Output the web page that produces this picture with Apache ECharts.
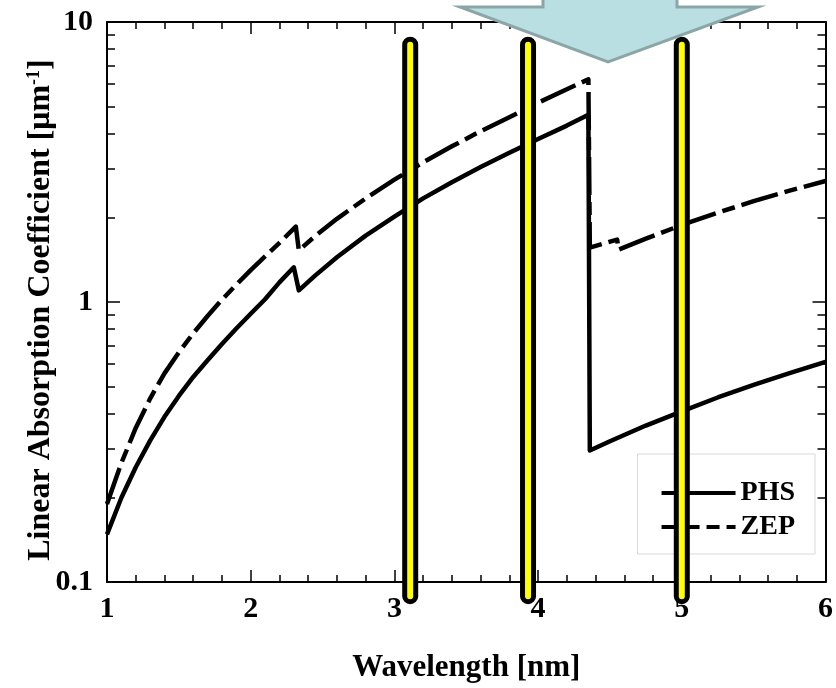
<!DOCTYPE html>
<html>
<head>
<meta charset="utf-8">
<script src="https://cdn.jsdelivr.net/npm/echarts@6/dist/echarts.min.js"></script>
<style>
  html, body { margin: 0; padding: 0; background: #ffffff; }
  #chart { width: 836px; height: 688px; }
</style>
</head>
<body>
<div id="chart"></div>
<script>
// Linear absorption coefficient (µm^-1) versus wavelength (nm).
// Repeated/near-repeated wavelengths mark the absorption edges (O K-edge ~2.3 nm, C K-edge ~4.36 nm).
const wavelengthsPHS = [1.0, 1.1, 1.2, 1.3, 1.4, 1.5, 1.6, 1.7, 1.8, 1.9, 2.0, 2.1, 2.2, 2.30,
                        2.335, 2.45, 2.6, 2.8, 3.0, 3.2, 3.4, 3.6, 3.8, 4.0, 4.2, 4.35,
                        4.36, 4.5, 4.75, 5.0, 5.25, 5.5, 5.75, 6.0];
const absorptionPHS  = [0.148, 0.200, 0.257, 0.320, 0.389, 0.462, 0.540, 0.619, 0.708, 0.804, 0.908, 1.023, 1.175, 1.33,
                        1.10, 1.245, 1.445, 1.726, 2.018, 2.344, 2.679, 3.034, 3.412, 3.819, 4.266, 4.66,
                        0.295, 0.318, 0.362, 0.407, 0.456, 0.506, 0.557, 0.611];

const wavelengthsZEP = [1.0, 1.1, 1.2, 1.3, 1.4, 1.5, 1.6, 1.7, 1.8, 1.9, 2.0, 2.1, 2.2, 2.314,
                        2.335, 2.45, 2.6, 2.8, 3.0, 3.2, 3.4, 3.6, 3.8, 4.0, 4.2, 4.35,
                        4.36, 4.55, 4.56, 4.75, 5.0, 5.25, 5.5, 5.75, 6.0];
const absorptionZEP  = [0.190, 0.266, 0.355, 0.452, 0.556, 0.661, 0.773, 0.891, 1.019, 1.153, 1.300, 1.455, 1.626, 1.86,
                        1.528, 1.722, 1.982, 2.344, 2.735, 3.155, 3.597, 4.074, 4.571, 5.15, 5.75, 6.24,
                        1.563, 1.671, 1.538, 1.683, 1.884, 2.084, 2.291, 2.500, 2.704];

const seriesNames = ['PHS', 'ZEP'];
const xTickLabels = [1, 2, 3, 4, 5, 6];
const yMajorTicks = [0.1, 1, 10];
const yMinorTicks = [0.2, 0.3, 0.4, 0.5, 0.6, 0.7, 0.8, 0.9, 2, 3, 4, 5, 6, 7, 8, 9];

// Highlighted wavelengths (vertical yellow markers) and their vertical span.
const markerWavelengths = [3.11, 3.93, 5.00];
const markerSpan = [0.089, 8.3];

const FONT = '"Liberation Serif", "Times New Roman", serif';
const toPairs = (xs, ys) => xs.map((x, i) => [x, ys[i]]);

const markerSeries = [];
markerWavelengths.forEach((w) => {
  const pts = [[w, markerSpan[0]], [w, markerSpan[1]]];
  markerSeries.push({
    type: 'line', data: pts, symbol: 'none', clip: false, silent: true, z: 10,
    lineStyle: { color: '#000000', width: 16, cap: 'round' }
  });
  markerSeries.push({
    type: 'line', data: pts, symbol: 'none', clip: false, silent: true, z: 11,
    lineStyle: { color: '#ffff00', width: 6, cap: 'round' }
  });
});

const frameLine = { show: true, onZero: false, lineStyle: { color: '#000', width: 2 } };
const tickLine = { color: '#000', width: 1.5 };

function xAxisDef(pos, withLabels) {
  return {
    type: 'value', min: xTickLabels[0], max: xTickLabels[xTickLabels.length - 1], interval: 1,
    position: pos,
    axisLine: frameLine,
    axisTick: { show: true, inside: true, length: 12, lineStyle: tickLine },
    minorTick: { show: true, splitNumber: 5, length: 7, lineStyle: tickLine },
    splitLine: { show: false },
    minorSplitLine: { show: false },
    axisLabel: {
      show: withLabels, margin: 12, color: '#000',
      fontFamily: FONT, fontWeight: 'bold', fontSize: 30
    }
  };
}

function yAxisDef(pos, ticks, len, withLabels, withLine) {
  return {
    type: 'log', logBase: 10, min: 0.1, max: 10, position: pos,
    axisLine: withLine ? frameLine : { show: false },
    axisTick: { show: true, inside: true, length: len, lineStyle: tickLine, customValues: ticks },
    splitLine: { show: false },
    axisLabel: {
      show: withLabels, margin: 14, color: '#000',
      fontFamily: FONT, fontWeight: 'bold', fontSize: 30,
      customValues: yMajorTicks
    }
  };
}

const yLeft = yAxisDef('left', yMajorTicks, 13, true, true);
yLeft.name = '{t|Linear Absorption Coefficient [μm}{s|-1}{t|]}';
yLeft.nameLocation = 'middle';
yLeft.nameRotate = 90;
yLeft.nameGap = 50;
yLeft.nameMoveOverlap = false;
yLeft.nameTextStyle = {
  color: '#000', fontFamily: FONT, fontWeight: 'bold', fontSize: 32,
  padding: [0, 16, 0, 0],
  rich: {
    t: { fontFamily: FONT, fontWeight: 'bold', fontSize: 32, color: '#000' },
    s: { fontFamily: FONT, fontWeight: 'bold', fontSize: 18, color: '#000', verticalAlign: 'top' }
  }
};

const xBottom = xAxisDef('bottom', true);
xBottom.name = 'Wavelength [nm]';
xBottom.nameLocation = 'middle';
xBottom.nameGap = 70;
xBottom.nameMoveOverlap = false;
xBottom.nameTextStyle = { color: '#000', fontFamily: FONT, fontWeight: 'bold', fontSize: 31 };

const option = {
  animation: false,
  backgroundColor: '#ffffff',
  grid: { left: 107, right: 6, top: 22, bottom: 101, containLabel: false },
  xAxis: [xBottom, xAxisDef('top', false)],
  yAxis: [
    yLeft,
    yAxisDef('left', yMinorTicks, 8, false, false),
    yAxisDef('right', yMajorTicks, 13, false, true),
    yAxisDef('right', yMinorTicks, 8, false, false)
  ],
  legend: {
    data: seriesNames,
    orient: 'vertical', right: 21, top: 454,
    backgroundColor: '#ffffff', borderColor: '#d9d9d9', borderWidth: 1,
    padding: [25, 20, 13, 22], itemGap: 6,
    itemWidth: 74, itemHeight: 14, selectedMode: false,
    itemStyle: { opacity: 0 },
    lineStyle: { width: 4, color: '#000' },
    textStyle: { color: '#000', fontFamily: FONT, fontWeight: 'bold', fontSize: 28, lineHeight: 28 }
  },
  series: [
    {
      name: seriesNames[0], type: 'line', data: toPairs(wavelengthsPHS, absorptionPHS),
      symbol: 'none', showSymbol: false, z: 3,
      itemStyle: { color: '#000' },
      lineStyle: { color: '#000', width: 4.5, join: 'round' }
    },
    {
      name: seriesNames[1], type: 'line', data: toPairs(wavelengthsZEP, absorptionZEP),
      symbol: 'none', showSymbol: false, z: 3,
      itemStyle: { color: '#000' },
      lineStyle: { color: '#000', width: 4.5, type: [38, 7, 13, 7], join: 'round' }
    }
  ].concat(markerSeries),
  graphic: [
    {
      // downward arrow pointing into the plot from the top edge
      type: 'polygon', z: 100, silent: true,
      shape: { points: [[543, -4], [543, 7], [460, 7], [608, 62], [758, 7], [677, 7], [677, -4]] },
      style: { fill: '#b9dfe3', stroke: '#8ba6a7', lineWidth: 3 }
    }
  ]
};

const chart = echarts.init(document.getElementById('chart'), null, { renderer: 'canvas' });
chart.setOption(option);
</script>
</body>
</html>
